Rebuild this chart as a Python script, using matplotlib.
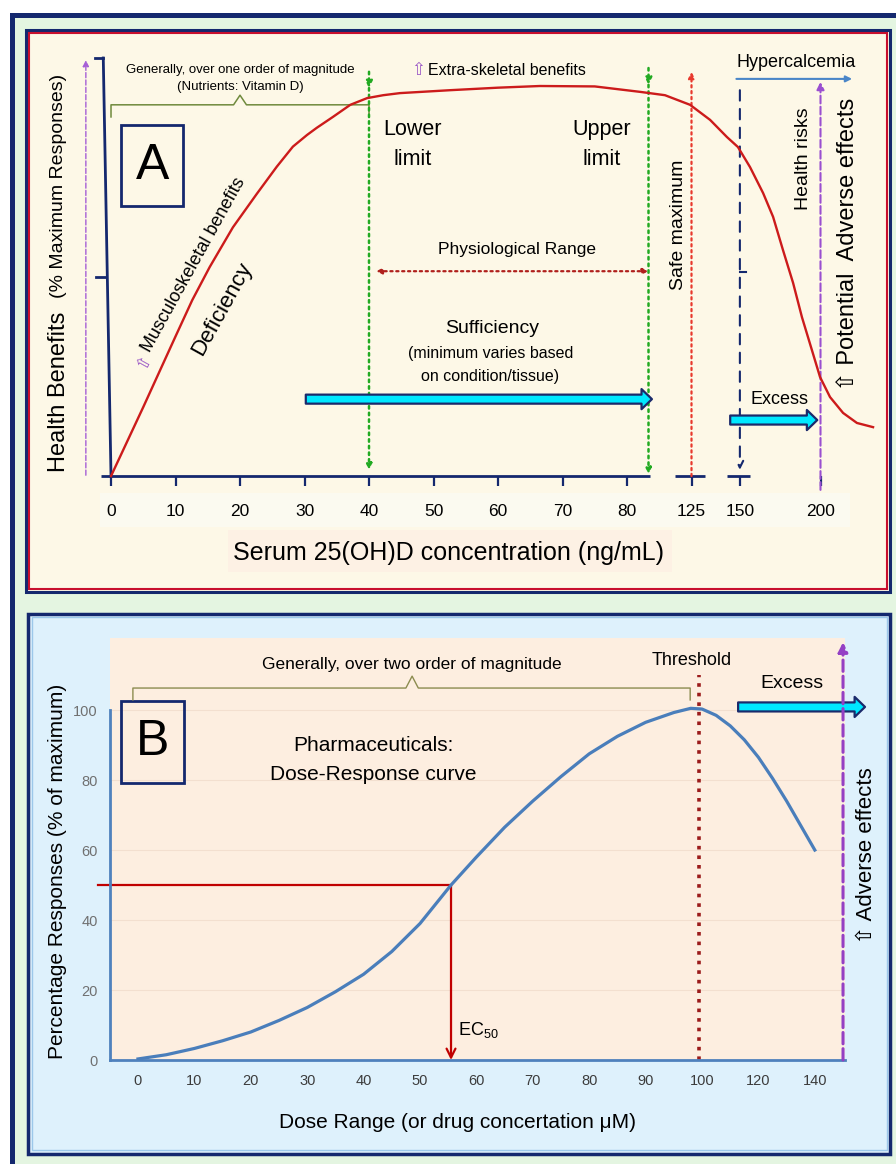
import numpy as np

import matplotlib
matplotlib.use('agg')

from matplotlib import pyplot as plt
from matplotlib.patches import Rectangle

plt.rcParams['font.family'] = ['Liberation Sans', 'DejaVu Sans']

# ---------------- panel A : vitamin D (serum 25(OH)D, ng/mL)
serum_ticks = [0, 10, 20, 30, 40, 50, 60, 70, 80, 125, 150, 200]
serum_x = [0, 5, 10, 12.6, 15.3, 18.9, 22.6, 25.7, 28.2, 30.4, 31.9, 34.4, 37.1, 39.7, 42.2,
           44.8, 52.6, 60, 66.5, 75, 89.1, 106.5, 124, 134.6, 143.3, 149, 156.3, 164.4,
           170.6, 176.7, 183, 188.5, 194.7, 199.7, 205.9, 214, 222.6, 232.6]
benefit = [0, 16.5, 33.4, 42.1, 50.0, 59.5, 67.5, 74.0, 78.8, 81.6, 83.3, 85.9, 88.8, 90.4, 91.1,
           91.6, 92.3, 92.9, 93.3, 93.2, 91.9, 91.1, 88.8, 85.2, 81.1, 78.7, 73.9, 67.7,
           62.0, 54.1, 46.2, 38.0, 30.1, 23.7, 18.9, 15.1, 12.7, 11.7]
lower_limit = 40
upper_limit = 95
safe_max = 125
hyper_start = 150
risk_start = 200

# ---------------- panel B : dose-response
dose_ticks = [0, 10, 20, 30, 40, 50, 60, 70, 80, 90, 100, 120, 140]
resp_ticks = [0, 20, 40, 60, 80, 100]
dose_x = [0, 5, 10, 15, 20, 25, 30, 35, 40, 45, 50, 55.5, 60, 65, 70, 75, 80, 85, 90, 95,
          98, 100, 105, 110, 115, 120, 125, 130, 135, 140]
response = [0.3, 1.5, 3.3, 5.5, 8, 11.3, 15, 19.5, 24.5, 31, 39, 50, 58, 66.5, 74, 81, 87.5,
            92.5, 96.5, 99.3, 100.5, 100.3, 98.5, 95.5, 91.5, 86.5, 80.5, 74, 67, 60]
ec50 = 55.5
threshold = 99.5
adverse_dose = 150

# broken (piecewise) axes, the way the original draws them
serum_knots = [-100, 0, 80, 125, 150, 200, 300]
serum_slots = [-10, 0, 8, 9, 9.75, 11, 13.5]
dose_knots = [-100, 0, 100, 140, 300]
dose_slots = [-10, 0, 10, 12, 20]


def serum_fwd(v):
    return np.interp(v, serum_knots, serum_slots)


def serum_inv(p):
    return np.interp(p, serum_slots, serum_knots)


def dose_fwd(v):
    return np.interp(v, dose_knots, dose_slots)


def dose_inv(p):
    return np.interp(p, dose_slots, dose_knots)


navy = '#14286e'
W, H = 896, 1164
fig = plt.figure(figsize=(W / 100, H / 100), dpi=100)

# background frames (pixel coords)
bg = fig.add_axes([0, 0, 1, 1])
bg.set_xlim(0, W)
bg.set_ylim(H, 0)
bg.axis('off')
bg.add_patch(Rectangle((11.5, 14.5), 900, 1160, fc='#e4f5e1', ec=navy, lw=3.6))
bg.add_patch(Rectangle((25.5, 29.5), 864, 562, fc='#fdf8e7', ec=navy, lw=2.2))
bg.add_patch(Rectangle((28.5, 32.5), 858, 556, fc='none', ec='#c8102e', lw=1.5))
bg.add_patch(Rectangle((100, 493), 750, 34, fc='#fbfaf0', ec='none'))
bg.add_patch(Rectangle((228, 530), 444, 42, fc='#fdf1e4', ec='none'))
bg.add_patch(Rectangle((28, 613.5), 862, 540, fc='#def1fc', ec=navy, lw=2.5))
bg.add_patch(Rectangle((31.5, 617), 855, 533, fc='none', ec='#9cc8ea', lw=1))


def arrow(ax, x0, y0, x1, y1, color, ls='-', lw=1.5, style='-|>', ms=12):
    ax.annotate('', xy=(x1, y1), xytext=(x0, y0), annotation_clip=False,
                arrowprops=dict(arrowstyle=style, color=color, lw=lw, ls=ls,
                                shrinkA=0, shrinkB=0, mutation_scale=ms))


def fat_arrow(ax, x0, x1, y):
    ax.annotate('', xy=(x1, y), xytext=(x0, y), annotation_clip=False,
                arrowprops=dict(arrowstyle='simple,head_length=0.75,head_width=1.45,tail_width=0.65',
                                facecolor='#00e8ff', edgecolor='#1b2a6b', lw=1.6,
                                shrinkA=0, shrinkB=0, mutation_scale=10))


# ======================= panel A
axA = fig.add_axes([30 / W, 1 - 530 / H, 855 / W, 495 / H])
axA.set_facecolor('none')
axA.set_xscale('function', functions=(serum_fwd, serum_inv))
axA.set_xlim(-12.56, 240)
axA.set_ylim(-12.9, 105.5)
for s in axA.spines.values():
    s.set_visible(False)
axA.spines['bottom'].set_position(('data', 0))
axA.set_xticks(serum_ticks)
axA.set_xticklabels([str(t) for t in serum_ticks])
axA.set_yticks([])
axA.tick_params(axis='x', direction='out', length=7, width=1.6, color=navy,
                labelsize=12.5, pad=13)

axA.plot(serum_x, benefit, color='#cc1b1b', lw=1.7, zorder=5)

# axes lines
axA.plot([-1.2, 0], [100, 0], color=navy, lw=2)
axA.plot([-2.5, -1.2], [100, 100], color=navy, lw=2)
axA.plot([-2.3, -0.7], [47.6, 47.6], color=navy, lw=2)
axA.hlines([0, 0, 0], [-1.5, 113.5, 143.3], [96, 132, 156], color=navy, lw=2)

axA.text(-8.1, 20.1, 'Health Benefits', rotation=90, fontsize=17, ha='center', va='center')
axA.text(-8.1, 69.4, '(% Maximum Responses)', rotation=90, fontsize=14, ha='center', va='center')
arrow(axA, -3.9, 0.2, -3.9, 99.5, '#a65fd6', ls='--', lw=1, ms=9)

# bracket
axA.plot([0, 0, 19, 20, 21, 40, 40], [85.9, 88.8, 88.8, 91.1, 88.8, 88.8, 85.9],
         color='#6f8a3c', lw=1.1)
axA.text(20, 97.1, 'Generally, over one order of magnitude', fontsize=9.5, ha='center', va='center')
axA.text(20, 93.0, '(Nutrients: Vitamin D)', fontsize=9.5, ha='center', va='center')

axA.add_patch(Rectangle((1.55, 64.6), 9.65, 19.4, fc='none', ec=navy, lw=2))
axA.text(6.4, 74.2, 'A', fontsize=36, ha='center', va='center')

# limits
green = '#22aa22'
for xv, ytop, yhead, ybot in [(lower_limit, 96.7, 92.8, 1.5), (upper_limit, 97.6, 93.6, 0.5)]:
    arrow(axA, xv, ytop, xv, yhead, green, ls=':', lw=1.8, ms=10)
    arrow(axA, xv, yhead, xv, ybot, green, ls=':', lw=1.8, ms=8)
axA.text(46.8, 83.0, 'Lower', fontsize=15.5, ha='center', va='center')
axA.text(46.8, 75.8, 'limit', fontsize=15.5, ha='center', va='center')
axA.text(76.0, 83.0, 'Upper', fontsize=15.5, ha='center', va='center')
axA.text(76.0, 75.8, 'limit', fontsize=15.5, ha='center', va='center')

axA.text(47.6, 97.0, '\u21e7', fontsize=12, color='#9b59c6', ha='center', va='center')
axA.text(49.1, 96.9, 'Extra-skeletal benefits', fontsize=11.5, ha='left', va='center')

axA.text(62.9, 54.3, 'Physiological Range', fontsize=12.5, ha='center', va='center')
arrow(axA, 41.1, 49.0, upper_limit, 49.0, '#b0201c', ls=':', lw=1.6, style='<|-|>', ms=8)

axA.text(59.1, 35.4, 'Sufficiency', fontsize=14, ha='center', va='center')
axA.text(58.8, 29.2, '(minimum varies based', fontsize=11.5, ha='center', va='center')
axA.text(58.8, 23.9, 'on condition/tissue)', fontsize=11.5, ha='center', va='center')
fat_arrow(axA, 30.2, 97.4, 18.4)

arrow(axA, safe_max, 0, safe_max, 96.7, '#e8392d', ls=':', lw=1.6, ms=9)
axA.text(116, 60.0, 'Safe maximum', rotation=90, fontsize=14, ha='center', va='center')

arrow(axA, hyper_start, 92.3, hyper_start, 1.5, navy, ls=(0, (5, 4)), lw=1.5, style='->', ms=12)
axA.plot([hyper_start, 153.5], [48.8, 48.8], color=navy, lw=1.5)
axA.text(148.2, 99.0, 'Hypercalcemia', fontsize=13, ha='left', va='center')
arrow(axA, 148.2, 95.0, 219.6, 95.0, '#4a86c8', lw=1.5, ms=9)

arrow(axA, risk_start, -3.3, risk_start, 94.3, '#9a4fd0', ls='--', lw=1.5, ms=11)
axA.text(189.2, 75.8, 'Health risks', rotation=90, fontsize=14, ha='center', va='center')
axA.text(217, 55.4, '\u21e7 Potential  Adverse effects', rotation=90, fontsize=17,
         ha='center', va='center')

axA.text(174.8, 18.4, 'Excess', fontsize=13, ha='center', va='center')
fat_arrow(axA, 145, 198, 13.4)

axA.text(17.2, 39.9, 'Deficiency', rotation=61, fontsize=16, ha='center', va='center')
axA.text(5.0, 27.3, '\u21e7', rotation=61, fontsize=12, color='#9b59c6', ha='center', va='center')
axA.text(12.8, 50.5, 'Musculoskeletal benefits', rotation=61, fontsize=13, ha='center', va='center')

axA.set_xlabel('Serum 25(OH)D concentration (ng/mL)', fontsize=18)
axA.xaxis.set_label_coords(0.49, -0.022)

# ======================= panel B
axB = fig.add_axes([110 / W, 1 - 1060 / H, 735 / W, 422 / H])
axB.set_facecolor('#fdeee0')
axB.set_xscale('function', functions=(dose_fwd, dose_inv))
axB.set_xlim(-4.96, 150.7)
axB.set_ylim(0, 120.6)
for side in ['top', 'right']:
    axB.spines[side].set_visible(False)
for side in ['left', 'bottom']:
    axB.spines[side].set_color('#4f81bd')
    axB.spines[side].set_linewidth(2)
axB.spines['left'].set_bounds(0, 100)
axB.set_xticks(dose_ticks)
axB.set_xticklabels([str(t) for t in dose_ticks])
axB.set_yticks(resp_ticks)
axB.tick_params(axis='x', length=0, labelsize=10.5, labelcolor='#3c3c3c', pad=10)
axB.tick_params(axis='y', length=0, labelsize=10.5, labelcolor='#707070', pad=9)
axB.yaxis.grid(True, color='#f3dfcf', lw=0.8)
axB.set_axisbelow(True)

axB.plot(dose_x, response, color='#4a7ebb', lw=2.3, zorder=5)

axB.plot([-0.9, -0.9, 47.5, 48.6, 49.7, 97.9, 97.9], [102.9, 106.3, 106.3, 109.7, 106.3, 106.3, 102.9],
         color='#8c8c50', lw=1, clip_on=False)
axB.text(48.6, 113.1, 'Generally, over two order of magnitude', fontsize=12.5, ha='center', va='center')

axB.add_patch(Rectangle((-3.0, 79.1), 11.1, 23.5, fc='none', ec=navy, lw=2, clip_on=False))
axB.text(2.5, 90.8, 'B', fontsize=36, ha='center', va='center')
axB.text(41.7, 90.0, 'Pharmaceuticals:', fontsize=15, ha='center', va='center')
axB.text(41.8, 81.7, 'Dose-Response curve', fontsize=15, ha='center', va='center')

axB.vlines(threshold, 0, 110, colors='#9b1b1b', linestyles=':', lw=2.6)
axB.text(98.2, 114.3, 'Threshold', fontsize=13, ha='center', va='center')

axB.text(132, 107.7, 'Excess', fontsize=14, ha='center', va='center')
fat_arrow(axB, 112.8, 157.8, 100.9)

arrow(axB, adverse_dose, 0, adverse_dose, 119.4, '#9440c4', ls='--', lw=2.2, ms=14)
axB.text(158.5, 58.3, '\u21e7 Adverse effects', rotation=90, fontsize=16, ha='center', va='center')

axB.plot([-7.1, ec50], [50, 50], color='#c00000', lw=1.6, clip_on=False)
arrow(axB, ec50, 50, ec50, 0, '#c00000', lw=1.6, style='->', ms=16)
axB.text(56.7, 8.6, r'EC$_{\mathregular{50}}$', fontsize=13, ha='left', va='center')

axB.set_xlabel('Dose Range (or drug concertation \u03bcM)', fontsize=15)
axB.xaxis.set_label_coords(0.473, -0.125)
axB.set_ylabel('Percentage Responses (% of maximum)', fontsize=15)
axB.yaxis.set_label_coords(-0.058, 0.447)

plt.savefig('out.png', dpi=100)
